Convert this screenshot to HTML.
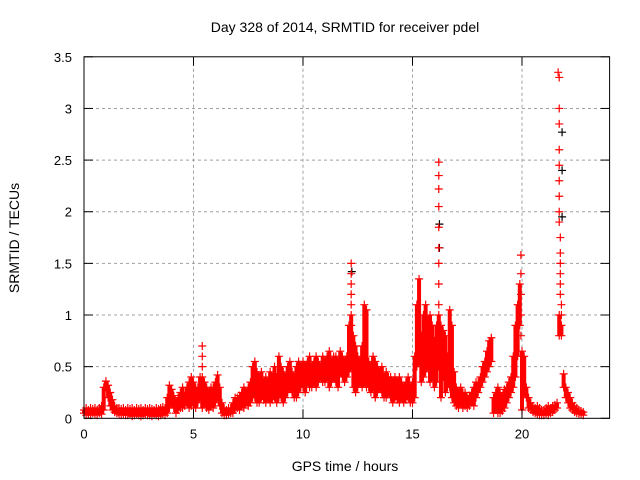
<!DOCTYPE html>
<html><head><meta charset="utf-8"><style>
body{margin:0;background:#fff;}
svg{display:block;font-family:"Liberation Sans",sans-serif;}
</style></head><body>
<svg id="chart" width="640" height="480">
<rect width="640" height="480" fill="#fff"/>
<g id="grid"></g><g id="pts"></g><g id="axes"></g>
</svg>
<script>
const xTicks=[0,5,10,15,20];
const yTicks=[0,0.5,1,1.5,2,2.5,3,3.5];
const yTickLabels=["0","0.5","1","1.5","2","2.5","3","3.5"];
const xTickLabels=["0","5","10","15","20"];
const lowVals=[
.05,.03,.04,.03,.05,.04,.03,.05,.04,.08,
.3,.2,.12,.08,.06,.05,.04,.03,.04,.03,
.03,.04,.02,.03,.04,.03,.02,.03,.04,.03,
.03,.02,.04,.03,.02,.03,.04,.03,.05,.1,
.15,.1,.05,.08,.1,.1,.12,.15,.1,.12,
.12,.1,.15,.2,.1,.15,.1,.08,.12,.1,
.15,.2,.12,.05,.03,.03,.04,.05,.05,.08,
.1,.08,.12,.1,.15,.12,.15,.2,.2,.15,
.15,.2,.18,.15,.2,.15,.18,.2,.15,.2,
.2,.15,.2,.25,.3,.25,.2,.2,.25,.3,
.3,.25,.35,.3,.3,.35,.3,.35,.4,.35,
.35,.4,.3,.35,.4,.35,.3,.45,.4,.35,
.4,.45,.5,.3,.25,.3,.35,.3,.35,.3,
.3,.25,.3,.2,.25,.3,.25,.2,.2,.25,
.2,.15,.2,.18,.15,.2,.15,.18,.2,.15,
.15,.2,.5,.55,.35,.4,.45,.5,.35,.4,
.3,.35,.5,.2,.4,.25,.3,.3,.2,.15,
.12,.1,.15,.1,.12,.1,.12,.15,.12,.2,
.25,.3,.35,.4,.45,.5,.55,.05,.08,.05,
.05,.07,.1,.15,.2,.25,.3,.4,.6,.9,
.08,.25,.2,.1,.08,.06,.05,.04,.03,.03,
.03,.04,.03,.05,.06,.08,.1,.8,.8,.3,
.2,.15,.1,.08,.06,.05,.04,.04,.03];
const highVals=[
.08,.1,.08,.1,.09,.1,.08,.1,.12,.3,
.36,.32,.25,.18,.12,.1,.1,.09,.1,.08,
.1,.09,.1,.08,.1,.09,.1,.08,.1,.09,
.1,.09,.08,.1,.09,.1,.11,.1,.2,.32,
.28,.22,.15,.2,.25,.3,.22,.3,.35,.4,
.35,.3,.3,.4,.4,.35,.3,.25,.3,.3,
.35,.42,.3,.15,.1,.08,.1,.1,.15,.2,
.2,.22,.25,.3,.25,.3,.35,.5,.55,.45,
.4,.45,.35,.4,.35,.45,.4,.5,.4,.6,
.5,.45,.4,.5,.55,.45,.4,.5,.55,.5,
.55,.5,.55,.6,.5,.55,.6,.55,.5,.6,
.55,.6,.65,.55,.6,.6,.55,.65,.6,.55,
.6,.9,1.0,.8,.7,.6,.55,.7,1.1,1.05,
.55,.5,.6,.55,.5,.45,.5,.4,.45,.4,
.4,.35,.4,.35,.4,.35,.3,.35,.4,.3,
.35,.6,1.1,1.35,.8,1.0,1.1,.95,1.0,.9,
.75,.9,1.0,.9,.85,.8,.6,1.05,.9,.45,
.3,.25,.3,.25,.25,.2,.22,.25,.3,.35,
.35,.4,.5,.55,.65,.75,.78,.2,.25,.3,
.25,.2,.28,.3,.35,.4,.6,.9,1.1,1.3,
.65,.6,.3,.2,.15,.12,.1,.12,.1,.08,
.08,.1,.12,.1,.12,.13,.15,1.0,.9,.43,
.3,.25,.2,.15,.12,.1,.08,.07,.06];
const timeStep=0.1;
const spikeTimes=[5.4,5.4,5.4,12.2,12.2,12.2,12.2,12.2,12.2,16.2,16.2,16.2,16.2,16.2,16.2,16.2,16.2,16.2,19.95,19.95,19.95,19.95,19.95,21.65,21.7,21.7,21.7,21.7,21.7,21.7,21.7,21.7,21.75,21.75,21.75,21.75,21.75,21.8,21.8,21.7,21.75];
const spikeVals=[.5,.6,.7,.9,1.1,1.2,1.3,1.4,1.5,1.1,1.3,1.5,1.65,1.85,2.05,2.22,2.35,2.48,.8,1.0,1.2,1.4,1.58,3.35,3.0,2.85,2.6,2.45,2.3,2.15,2.0,1.9,1.75,1.6,1.5,1.3,1.2,1.1,1.0,3.3,1.4];
const blackTimes=[12.2,16.2,16.2,21.8,21.8,21.8];
const blackVals=[1.42,1.88,1.65,2.77,2.4,1.95];

const L=84,R=609.6,T=56.8,B=418.3,XMAX=24,YMAX=3.5;
const sx=v=>L+v/XMAX*(R-L), sy=v=>B-v/YMAX*(B-T);
const NS="http://www.w3.org/2000/svg";
function mk(tag,attrs,parent){const e=document.createElementNS(NS,tag);for(const k in attrs)e.setAttribute(k,attrs[k]);parent.appendChild(e);return e;}
const grid=document.getElementById('grid'),pts=document.getElementById('pts'),axes=document.getElementById('axes');
yTicks.forEach((v,i)=>{
 const y=sy(v);
 if(i>0&&i<yTicks.length-1){const g=mk('line',{x1:L,x2:R,y1:y,y2:y,stroke:'#a0a0a0','stroke-dasharray':'3,3'},grid);
 
 }
 const t1=mk('line',{x1:L,x2:L+9,y1:y,y2:y,stroke:'#000'},axes);
 
 
 const t2=mk('line',{x1:R-9,x2:R,y1:y,y2:y,stroke:'#000'},axes);
 
 
 const tx=mk('text',{x:L-12,y:y+5,'text-anchor':'end','font-size':'13'},axes);tx.textContent=yTickLabels[i];
 
 
});
xTicks.forEach((v,i)=>{
 const x=sx(v);
 if(i>0){const g=mk('line',{x1:x,x2:x,y1:T,y2:B,stroke:'#a0a0a0','stroke-dasharray':'3,3'},grid);
 
 }
 const t1=mk('line',{x1:x,x2:x,y1:B-9,y2:B,stroke:'#000'},axes);
 
 
 const t2=mk('line',{x1:x,x2:x,y1:T,y2:T+9,stroke:'#000'},axes);
 
 
 const tx=mk('text',{x:x,y:B+20,'text-anchor':'middle','font-size':'13'},axes);tx.textContent=xTickLabels[i];
 
 
});
function plus(t,v,col,name){
 const x=sx(t),y=sy(v);
 const p=mk('path',{d:`M${x-4},${y}h8M${x},${y-4}v8`,stroke:col,'stroke-width':'1.2',fill:'none'},pts);
 
 
}
lowVals.forEach((v,i)=>{
 const x=sx(i*timeStep),y1=sy(highVals[i]),y2=sy(v);
 const r=mk('line',{x1:x,x2:x,y1:y1,y2:y2,stroke:'#ff0000','stroke-width':'4'},pts);
 
 
});
blackVals.forEach((v,i)=>plus(blackTimes[i]+0.03,v,'#000','black-point'));
lowVals.forEach((v,i)=>plus(i*timeStep,v,'#ff0000','srmtid-point'));
highVals.forEach((v,i)=>plus(i*timeStep,v,'#ff0000','srmtid-point'));
spikeVals.forEach((v,i)=>plus(spikeTimes[i],v,'#ff0000','srmtid-point'));
const frame=mk('rect',{x:L,y:T,width:R-L,height:B-T,fill:'none',stroke:'#000'},axes);


const title=mk('text',{x:345,y:32,'text-anchor':'middle','font-size':'14'},axes);title.textContent='Day 328 of 2014, SRMTID for receiver pdel';


const xt=mk('text',{x:345,y:471,'text-anchor':'middle','font-size':'14'},axes);xt.textContent='GPS time / hours';


const yt=mk('text',{x:19,y:238,'text-anchor':'middle','font-size':'14',transform:'rotate(-90 19 238)'},axes);yt.textContent='SRMTID / TECUs';


</script>
</body></html>
